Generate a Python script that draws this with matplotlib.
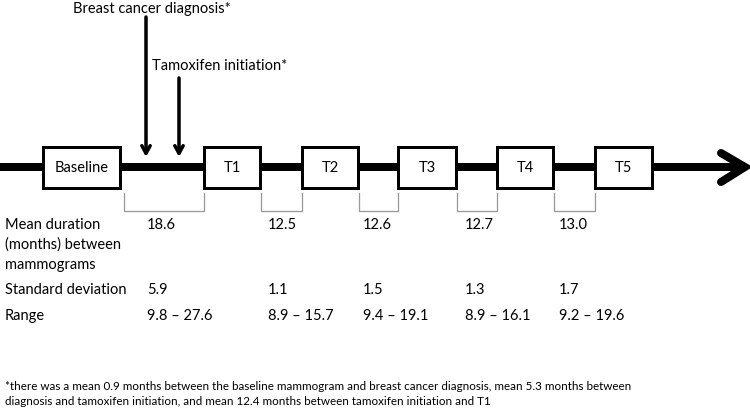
import matplotlib

matplotlib.use("Agg")
import matplotlib.pyplot as plt
from matplotlib.patches import Rectangle

plt.rcParams["font.family"] = ["Lato", "DejaVu Sans"]

# data
box_labels = ["Baseline", "T1", "T2", "T3", "T4", "T5"]
mean_months = ["18.6", "12.5", "12.6", "12.7", "13.0"]
sd_months = ["5.9", "1.1", "1.5", "1.3", "1.7"]
range_months = ["9.8 \u2013 27.6", "8.9 \u2013 15.7", "9.4 \u2013 19.1", "8.9 \u2013 16.1", "9.2 \u2013 19.6"]
row_labels = ["Mean duration\n(months) between\nmammograms", "Standard deviation", "Range"]
events = ["Breast cancer diagnosis*", "Tamoxifen initiation*"]
footnote = ("*there was a mean 0.9 months between the baseline mammogram and breast cancer diagnosis, "
            "mean 5.3 months between\ndiagnosis and tamoxifen initiation, and mean 12.4 months between "
            "tamoxifen initiation and T1")

# layout (pixel coordinates)
BOX_X = [(43, 120), (204, 260), (302, 358), (398, 456), (497, 553), (595, 652)]
BOX_TOP, BOX_BOT = 147, 188
LINE_Y = 167
COL_X = [147, 268, 363, 465, 559]
ROW_Y = [225, 290, 316]
EVENT_X = [146, 179]
EVENT_TOP = [17, 78]
EVENT_TEXT = [(152, 9), (220, 66)]
BRACKET_TOP, BRACKET_BOT = 193, 211
PX = 0.72  # points per pixel at dpi 100

fig = plt.figure(figsize=(7.5, 4.13), dpi=100)
ax = fig.add_axes([0, 0, 1, 1])
ax.set_xlim(0, 750)
ax.set_ylim(413, 0)
ax.axis("off")

# timeline with open chevron head
ax.plot([0, 744], [LINE_Y, LINE_Y], color="black", lw=8 * PX, solid_capstyle="butt", zorder=1)
ax.plot([721, 745, 721], [153, LINE_Y, 182], color="black", lw=8 * PX,
        solid_capstyle="round", solid_joinstyle="miter", zorder=1)

# mammogram boxes
for (x0, x1), lab in zip(BOX_X, box_labels):
    ax.add_patch(Rectangle((x0, BOX_TOP), x1 - x0, BOX_BOT - BOX_TOP, facecolor="white",
                           edgecolor="black", lw=3 * PX, zorder=3))
    ax.text((x0 + x1) / 2, (BOX_TOP + BOX_BOT) / 2 + 1, lab, ha="center", va="center",
            fontsize=10.5, zorder=4)

# gray brackets between mammograms
for i in range(len(mean_months)):
    x0 = BOX_X[i][1] + (4 if i == 0 else 1)
    x1 = BOX_X[i + 1][0]
    ax.plot([x0, x0, x1, x1], [BRACKET_TOP, BRACKET_BOT, BRACKET_BOT, BRACKET_TOP],
            color="#9a9a9a", lw=1.3 * PX, solid_joinstyle="round", zorder=2)

# event arrows
for ex, top, lab, (tx, ty) in zip(EVENT_X, EVENT_TOP, events, EVENT_TEXT):
    ax.annotate("", xy=(ex, 157), xytext=(ex, top),
                arrowprops=dict(arrowstyle="->,head_length=0.55,head_width=0.3",
                                color="black", lw=3.5 * PX, shrinkA=0, shrinkB=0), zorder=5)
    ax.text(tx, ty, lab, ha="center", va="center", fontsize=10.5)

# table text
ax.text(5, ROW_Y[0] - 7, row_labels[0], ha="left", va="top", fontsize=10.5, linespacing=1.5)
ax.text(5, ROW_Y[1], row_labels[1], ha="left", va="center", fontsize=10.5)
ax.text(5, ROW_Y[2], row_labels[2], ha="left", va="center", fontsize=10.5)
for vals, y in zip([mean_months, sd_months, range_months], ROW_Y):
    for x, v in zip(COL_X, vals):
        ax.text(x, y, v, ha="left", va="center", fontsize=10.5)

ax.text(5, 381, footnote, ha="left", va="top", fontsize=8.4, linespacing=1.45)

fig.savefig("out.png", dpi=100, facecolor="white")
